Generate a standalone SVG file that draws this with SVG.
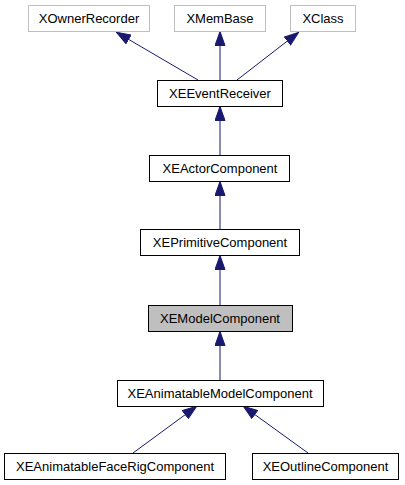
<svg xmlns="http://www.w3.org/2000/svg" width="405" height="485" viewBox="0 0 405 485">
<style>
.n rect{fill:#ffffff;stroke:#000000;stroke-width:1}
.n.ext rect{stroke:#bfbfbf}
.n.cur rect{fill:#bfbfbf}
.n text{font-family:"Liberation Sans",Arial,Helvetica,sans-serif;font-size:13px;fill:#000000;text-anchor:middle}
.e line{stroke:#191970;stroke-width:1;marker-end:url(#ah)}
</style>
<defs>
<marker id="ah" markerUnits="userSpaceOnUse" markerWidth="15" markerHeight="11" refX="15" refY="5.5" orient="auto" viewBox="0 0 15 11">
<path d="M0.5,0.5 L14.5,5.5 L0.5,10.5 z" fill="#191970" stroke="#191970" stroke-width="1"/>
</marker>
</defs>
<rect width="405" height="485" fill="#ffffff"/>
<g id="edges" class="e">
<line x1="198" y1="80" x2="116" y2="32"/>
<line x1="220" y1="80" x2="220" y2="31"/>
<line x1="237" y1="80" x2="299" y2="32"/>
<line x1="220" y1="155" x2="220" y2="106"/>
<line x1="220" y1="229" x2="220" y2="181"/>
<line x1="220" y1="305" x2="220" y2="255"/>
<line x1="220" y1="380" x2="220" y2="331"/>
<line x1="133" y1="453" x2="197" y2="406"/>
<line x1="308" y1="453" x2="243" y2="406"/>
</g>
<g id="XOwnerRecorder" class="n ext"><rect x="28.5" y="5.5" width="121" height="26"/><text x="89" y="23">XOwnerRecorder</text></g>
<g id="XMemBase" class="n ext"><rect x="174.5" y="5.5" width="91" height="26"/><text x="220" y="23">XMemBase</text></g>
<g id="XClass" class="n ext"><rect x="290.5" y="5.5" width="65" height="26"/><text x="323" y="23">XClass</text></g>
<g id="XEEventReceiver" class="n"><rect x="157.5" y="80.5" width="125" height="26"/><text x="220" y="98">XEEventReceiver</text></g>
<g id="XEActorComponent" class="n"><rect x="149.5" y="155.5" width="140" height="26"/><text x="220" y="173">XEActorComponent</text></g>
<g id="XEPrimitiveComponent" class="n"><rect x="140.5" y="229.5" width="159" height="26"/><text x="220" y="247">XEPrimitiveComponent</text></g>
<g id="XEModelComponent" class="n cur"><rect x="148.5" y="305.5" width="144" height="26"/><text x="220" y="323">XEModelComponent</text></g>
<g id="XEAnimatableModelComponent" class="n"><rect x="117.5" y="380.5" width="206" height="26"/><text x="220" y="398">XEAnimatableModelComponent</text></g>
<g id="XEAnimatableFaceRigComponent" class="n"><rect x="4.5" y="453.5" width="221" height="26"/><text x="115" y="471">XEAnimatableFaceRigComponent</text></g>
<g id="XEOutlineComponent" class="n"><rect x="252.5" y="453.5" width="146" height="26"/><text x="325.5" y="471">XEOutlineComponent</text></g>
</svg>
